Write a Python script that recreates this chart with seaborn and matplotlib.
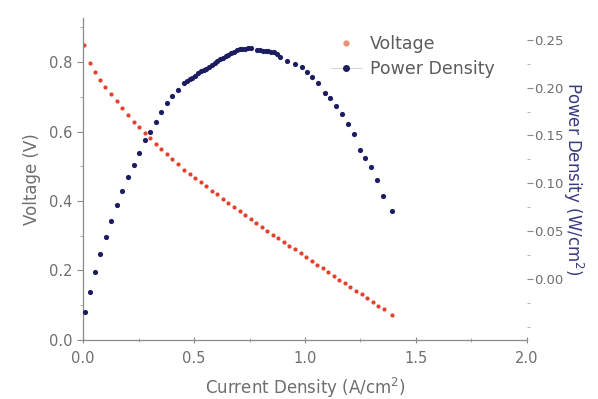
import numpy as np
import pandas as pd
import seaborn as sns
import matplotlib.pyplot as plt
from matplotlib.lines import Line2D
from matplotlib.ticker import MultipleLocator

# Voltage curve (left axis)
volt_current = [0.005, 0.03, 0.053, 0.075, 0.10, 0.127, 0.153, 0.177, 0.203, 0.228,
                0.252, 0.278, 0.303, 0.327, 0.353, 0.378, 0.402, 0.428, 0.455, 0.48,
                0.505, 0.53, 0.555, 0.58, 0.605, 0.63, 0.655, 0.68, 0.705, 0.73,
                0.755, 0.78, 0.805, 0.83, 0.855, 0.88, 0.905, 0.93, 0.955, 0.98,
                1.005, 1.03, 1.055, 1.08, 1.105, 1.13, 1.155, 1.18, 1.205, 1.23,
                1.255, 1.28, 1.305, 1.33, 1.355, 1.39]
voltage = [0.85, 0.798, 0.770, 0.748, 0.729, 0.708, 0.688, 0.667, 0.647, 0.628,
           0.612, 0.595, 0.580, 0.564, 0.549, 0.534, 0.520, 0.506, 0.489, 0.477,
           0.466, 0.454, 0.442, 0.430, 0.419, 0.407, 0.395, 0.383, 0.372, 0.360,
           0.348, 0.336, 0.325, 0.314, 0.303, 0.293, 0.282, 0.271, 0.261, 0.250,
           0.239, 0.228, 0.217, 0.207, 0.196, 0.185, 0.174, 0.164, 0.153, 0.142,
           0.131, 0.121, 0.110, 0.099, 0.088, 0.072]

# Power density curve (right axis)
power_current = [0.010, 0.030, 0.055, 0.078, 0.104, 0.127, 0.153, 0.177, 0.203, 0.228,
                 0.252, 0.278, 0.303, 0.327, 0.353, 0.378, 0.402, 0.428, 0.455, 0.468,
                 0.48, 0.493, 0.505, 0.518, 0.53, 0.543, 0.555, 0.568, 0.58, 0.593,
                 0.605, 0.618, 0.63, 0.643, 0.655, 0.668, 0.68, 0.693, 0.705, 0.718,
                 0.73, 0.743, 0.755, 0.785, 0.798, 0.81, 0.823, 0.835, 0.848, 0.86,
                 0.873, 0.887, 0.918, 0.955, 0.985, 1.008, 1.030, 1.060, 1.090, 1.113,
                 1.140, 1.165, 1.195, 1.221, 1.248, 1.270, 1.296, 1.326, 1.353, 1.391]
power = [-0.035, -0.014, 0.007, 0.026, 0.044, 0.061, 0.077, 0.092, 0.107, 0.119,
         0.132, 0.145, 0.154, 0.164, 0.175, 0.184, 0.191, 0.198, 0.205, 0.207,
         0.209, 0.210, 0.212, 0.215, 0.217, 0.219, 0.220, 0.222, 0.224, 0.226,
         0.228, 0.230, 0.231, 0.233, 0.234, 0.236, 0.237, 0.239, 0.240, 0.241,
         0.241, 0.242, 0.242, 0.239, 0.239, 0.2385, 0.238, 0.238, 0.237, 0.237,
         0.235, 0.232, 0.228, 0.225, 0.222, 0.216, 0.211, 0.205, 0.194, 0.189,
         0.181, 0.172, 0.162, 0.152, 0.135, 0.126, 0.117, 0.103, 0.087, 0.071]

v_df = pd.DataFrame({"current": volt_current, "voltage": voltage})
p_df = pd.DataFrame({"current": power_current, "power": power})

sns.set_style("ticks")
plt.rcParams["font.family"] = ["DejaVu Sans"]

gray = "#6e6e6e"
red = "#e5402c"
navy = "#1c1c60"

fig = plt.figure(figsize=(5.98, 3.99), dpi=100)
ax = fig.add_axes([0.139, 0.148, 0.742, 0.807])
ax2 = ax.twinx()

sns.scatterplot(data=v_df, x="current", y="voltage", ax=ax, color=red,
                s=9, linewidth=0, legend=False)
sns.scatterplot(data=p_df, x="current", y="power", ax=ax2, color=navy,
                s=14, linewidth=0, legend=False)

ax.set_xlim(0, 2.0)
ax.set_ylim(0, 0.927)
ax2.set_ylim(-0.064, 0.273)

ax.xaxis.set_major_locator(MultipleLocator(0.5))
ax.xaxis.set_minor_locator(MultipleLocator(0.25))
ax.yaxis.set_major_locator(MultipleLocator(0.2))
ax.yaxis.set_minor_locator(MultipleLocator(0.1))
ax2.set_yticks([0.0, 0.05, 0.10, 0.15, 0.20, 0.25])
ax2.yaxis.set_minor_locator(MultipleLocator(0.025))
ax.xaxis.set_major_formatter(plt.FormatStrFormatter("%.1f"))
ax.yaxis.set_major_formatter(plt.FormatStrFormatter("%.1f"))
ax2.yaxis.set_major_formatter(plt.FormatStrFormatter("%.2f"))

for s in ["top", "right"]:
    ax.spines[s].set_visible(False)
for s in ["top", "right", "left", "bottom"]:
    ax2.spines[s].set_visible(False)
for s in ["left", "bottom"]:
    ax.spines[s].set_color("#8a8a8a")
    ax.spines[s].set_linewidth(0.9)

ax.tick_params(axis="both", which="major", colors="#8a8a8a", labelcolor=gray,
               labelsize=10.5, length=4, width=0.8)
ax.tick_params(axis="both", which="minor", colors="#aaaaaa", length=2.5, width=0.7)
ax.tick_params(axis="x", which="both", direction="inout")
ax.tick_params(axis="x", which="major", pad=6)
ax2.tick_params(axis="y", which="major", colors="#8a8a8a", labelcolor=gray,
                labelsize=9.5, length=4, width=0.8, pad=1)
ax2.tick_params(axis="y", which="minor", colors="#bbbbbb", length=2.5, width=0.7)

ax.set_xlabel("Current Density (A/cm$^2$)", color=gray, fontsize=12, labelpad=7)
ax.set_ylabel("Voltage (V)", color=gray, fontsize=12, labelpad=6)
ax2.set_ylabel("Power Density (W/cm$^2$)", color="#3a3a80", fontsize=12,
               rotation=270, labelpad=16)

handles = [
    Line2D([], [], marker="o", linestyle="none", color="#e8927a",
           markersize=3.5, label="Voltage"),
    Line2D([], [], marker="o", linestyle="-", color="#cccccc", markersize=4,
           markerfacecolor=navy, markeredgecolor=navy, linewidth=0.6,
           label="Power Density"),
]
leg = fig.legend(handles=handles, loc="upper left", bbox_to_anchor=(0.553, 0.912),
                 frameon=False, fontsize=12.5, handlelength=1.8, handletextpad=0.45,
                 labelspacing=0.4, borderpad=0, borderaxespad=0)
for t in leg.get_texts():
    t.set_color("#5c5c5c")

fig.savefig("out.png", dpi=100)
